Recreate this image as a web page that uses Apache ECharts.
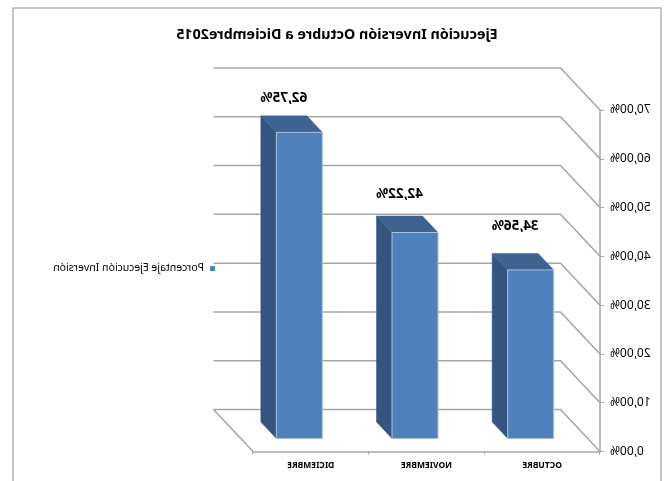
<!DOCTYPE html>
<html>
<head>
<meta charset="utf-8">
<script src="https://cdn.jsdelivr.net/npm/echarts@6/dist/echarts.min.js"></script>
<style>
html,body{margin:0;padding:0;background:#fff;overflow:hidden}
#c{width:668px;height:481px;transform:scaleX(-1);transform-origin:center}
</style>
</head>
<body>
<div id="c"></div>
<script>
const chartTitle = 'Ejecución Inversión Octubre a Diciembre2015';
const seriesName = 'Porcentaje Ejecución Inversión';
const categories = ['OCTUBRE', 'NOVIEMBRE', 'DICIEMBRE'];
const values = [34.56, 42.22, 62.75];
const ticks = [0, 10, 20, 30, 40, 50, 60, 70];
const labelLift = [27.5, 21.5, 17.5];

const FONT = 'Noto Sans';
const DX = 39.5, DY = 42;
const fmt = v => v.toFixed(2).replace('.', ',') + '%';

const chart = echarts.init(document.getElementById('c'), null, {renderer: 'canvas'});

function wallItem(params, api) {
  const cs = params.coordSys;
  const v = api.value(0);
  const y = api.coord([0, v])[1];
  const x0 = cs.x, x1 = cs.x + cs.width;
  const style = {stroke: '#a6a6a6', lineWidth: 1.5, fill: 'none'};
  const children = [{
    type: 'polyline',
    shape: {points: [[x0, y], [x0 + DX, y - DY], [x1 + DX, y - DY]]},
    style
  }];
  if (v === 0) {
    children.push({
      type: 'line',
      shape: {x1: x1, y1: y, x2: x1 + DX, y2: y - DY},
      style
    });
  }
  return {type: 'group', children};
}

function barItem(params, api) {
  const cat = api.value(0), val = api.value(1);
  const base = api.coord([cat, 0]);
  const top = api.coord([cat, val]);
  const w = 46, ox = 11.5, oy = 13, dx = 15.5, dy = 16.5;
  const l = base[0] - w / 2 + ox, r = l + w;
  const b = base[1] - oy, t = top[1] - oy;
  const edge = '#a9c1de';
  return {
    type: 'group',
    children: [
      {type: 'polygon',
       shape: {points: [[r, t], [r + dx, t - dy], [r + dx, b - dy], [r, b]]},
       style: {fill: '#335580', stroke: '#335580', lineWidth: 0.5}},
      {type: 'polygon',
       shape: {points: [[l, t], [r, t], [r + dx, t - dy], [l + dx, t - dy]]},
       style: {fill: '#3e6391', stroke: '#3e6391', lineWidth: 0.5}},
      {type: 'rect',
       shape: {x: l, y: t, width: w, height: b - t},
       style: {fill: '#4f81bd', stroke: edge, lineWidth: 1}},
      {type: 'text',
       style: {
         x: (l + r) / 2 + dx,
         y: t - dy - labelLift[cat],
         text: fmt(val),
         fill: '#000',
         font: 'bold 13.5px "' + FONT + '"',
         align: 'center',
         verticalAlign: 'middle'
       }}
    ]
  };
}

chart.setOption({
  animation: false,
  backgroundColor: '#fff',
  title: {
    text: chartTitle,
    left: 326, top: 23, textAlign: 'center',
    textStyle: {fontFamily: FONT, fontWeight: 'bold', fontSize: 14.3, color: '#000'}
  },
  legend: {
    show: true,
    orient: 'vertical',
    left: 448, top: 258,
    itemWidth: 5, itemHeight: 5,
    icon: 'rect',
    data: [seriesName],
    textStyle: {fontFamily: FONT, fontSize: 10.5, color: '#000', padding: [0, 0, 0, 1]}
  },
  graphic: [{
    type: 'polyline',
    shape: {points: [[7, 481], [7, 8], [655, 8], [655, 481]]},
    style: {stroke: '#b3b3b3', lineWidth: 1.5, fill: 'none'},
    z: -1
  }],
  grid: {left: 68, top: 110, width: 347, height: 341.5},
  xAxis: {
    type: 'category',
    data: categories,
    axisLine: {lineStyle: {color: '#a6a6a6', width: 1.5}},
    axisTick: {show: true, alignWithLabel: false, length: 3, lineStyle: {color: '#a6a6a6'}},
    axisLabel: {fontFamily: FONT, fontWeight: 'bold', fontSize: 8.5, color: '#000', margin: 10}
  },
  yAxis: {
    type: 'value',
    min: 0, max: 70, interval: 10,
    axisLine: {show: true, lineStyle: {color: '#a6a6a6', width: 1.5}},
    axisTick: {show: true, length: 4, lineStyle: {color: '#a6a6a6'}},
    splitLine: {show: false},
    axisLabel: {
      fontFamily: FONT, fontSize: 12, color: '#000', margin: 10,
      formatter: v => fmt(v)
    }
  },
  series: [
    {
      type: 'custom',
      name: 'walls',
      silent: true,
      renderItem: wallItem,
      encode: {y: 0},
      data: ticks.map(t => [t]),
      z: 1
    },
    {
      type: 'custom',
      name: seriesName,
      silent: true,
      itemStyle: {color: '#4f81bd'},
      renderItem: barItem,
      encode: {x: 0, y: 1},
      data: values.map((v, i) => [i, v]),
      z: 2
    }
  ]
});
</script>
</body>
</html>
